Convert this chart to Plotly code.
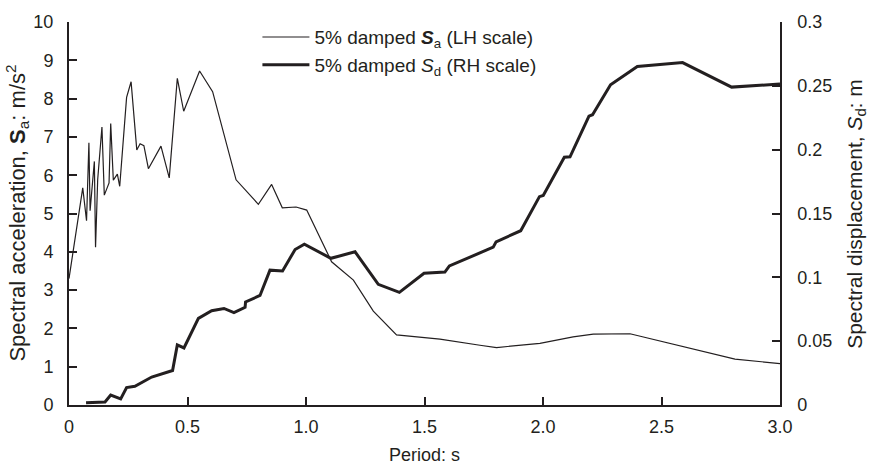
import plotly.graph_objects as go

# Spectral acceleration (LH scale)
sa_period = [0.0, 0.04, 0.058, 0.074, 0.084, 0.089, 0.107, 0.112, 0.121, 0.139, 0.149, 0.169, 0.176,
             0.187, 0.204, 0.214, 0.243, 0.262, 0.286, 0.300, 0.316, 0.335, 0.388, 0.423, 0.457, 0.484,
             0.551, 0.606, 0.705, 0.799, 0.855, 0.900, 0.958, 1.003, 1.108, 1.200, 1.284, 1.382, 1.508,
             1.565, 1.734, 1.804, 1.987, 2.072, 2.127, 2.212, 2.325, 2.367, 2.81, 3.0]
sa_values = [3.3, 4.94, 5.67, 4.81, 6.85, 5.07, 6.36, 4.12, 5.88, 7.26, 5.48, 5.8, 7.35,
             5.87, 6.03, 5.71, 8.03, 8.44, 6.66, 6.82, 6.77, 6.17, 6.76, 5.93, 8.53, 7.67,
             8.72, 8.18, 5.88, 5.24, 5.76, 5.15, 5.17, 5.09, 3.74, 3.26, 2.45, 1.83, 1.76,
             1.72, 1.56, 1.50, 1.61, 1.72, 1.78, 1.85, 1.87, 1.86, 1.2, 1.08]

# Spectral displacement (RH scale)
sd_period = [0.072, 0.152, 0.176, 0.218, 0.243, 0.278, 0.349, 0.437, 0.457, 0.485, 0.546, 0.602,
             0.654, 0.696, 0.743, 0.745, 0.806, 0.848, 0.901, 0.954, 0.993, 1.105, 1.207, 1.305,
             1.394, 1.498, 1.586, 1.605, 1.79, 1.802, 1.906, 1.985, 2.001, 2.09, 2.114, 2.194,
             2.209, 2.285, 2.398, 2.589, 2.796, 3.0]
sd_values = [0.0018, 0.0024, 0.0078, 0.0048, 0.0137, 0.0147, 0.0219, 0.027, 0.0471, 0.0447, 0.0678,
             0.0738, 0.0756, 0.0723, 0.0765, 0.0807, 0.0858, 0.1056, 0.105, 0.1218, 0.126, 0.1149,
             0.12, 0.0945, 0.0882, 0.1032, 0.1041, 0.1089, 0.1236, 0.1278, 0.1365, 0.1632, 0.1641,
             0.1941, 0.1944, 0.2262, 0.2274, 0.2508, 0.2652, 0.2682, 0.249, 0.2514]

x_ticks = [0, 0.5, 1.0, 1.5, 2.0, 2.5, 3.0]
x_ticktext = ["0", "0.5", "1.0", "1.5", "2.0", "2.5", "3.0"]
y_ticks = list(range(0, 11))
y2_ticks = [0, 0.05, 0.1, 0.15, 0.2, 0.25, 0.3]
y2_ticktext = ["0", "0.05", "0.1", "0.15", "0.2", "0.25", "0.3"]

INK = "#231f20"
FONT = "Liberation Sans, Arial, sans-serif"

fig = go.Figure()
fig.add_trace(go.Scatter(x=sa_period, y=sa_values, mode="lines",
                         line=dict(color=INK, width=1.2),
                         name="5% damped <b><i>S</i></b><sub>a</sub> (LH scale)"))
fig.add_trace(go.Scatter(x=sd_period, y=sd_values, mode="lines", yaxis="y2",
                         line=dict(color=INK, width=3),
                         name="5% damped <i>S</i><sub>d</sub> (RH scale)"))

axis_common = dict(showline=True, linecolor=INK, ticks="inside", ticklen=8, tickwidth=1.5,
                   tickcolor=INK, showgrid=False, zeroline=False,
                   tickfont=dict(family=FONT, size=18, color=INK))

fig.update_layout(
    width=869, height=466,
    margin=dict(l=69, r=89, t=18, b=61),
    paper_bgcolor="white", plot_bgcolor="white",
    font=dict(family=FONT, color=INK),
    xaxis=dict(range=[0, 3], tickvals=x_ticks, ticktext=x_ticktext, linewidth=2,
               ticklabelstandoff=4, **axis_common),
    yaxis=dict(range=[0, 10], tickvals=y_ticks, linewidth=2, ticklabelstandoff=10, **axis_common),
    yaxis2=dict(range=[0, 0.3], tickvals=y2_ticks, ticktext=y2_ticktext, overlaying="y",
                side="right", linewidth=1.5, ticklabelstandoff=12, **axis_common),
    showlegend=True,
    legend=dict(x=0.265, y=1.01, xanchor="left", yanchor="top", bgcolor="rgba(0,0,0,0)",
                itemwidth=47, font=dict(family=FONT, size=19, color=INK), tracegroupgap=0),
    annotations=[
        dict(text="Period: s", xref="paper", yref="paper", x=0.5, y=-0.13,
             yanchor="middle", xanchor="center", showarrow=False,
             font=dict(family=FONT, size=18, color=INK)),
        dict(text="Spectral acceleration, <b>S</b><sub>a</sub>: m/s<sup>2</sup>", xref="paper",
             yref="paper", x=-0.073, y=0.5, xanchor="center", yanchor="middle", textangle=-90,
             showarrow=False, font=dict(family=FONT, size=22, color=INK)),
        dict(text="Spectral displacement, <i>S</i><sub>d</sub>: m", xref="paper",
             yref="paper", x=1.106, y=0.5, xanchor="center", yanchor="middle", textangle=-90,
             showarrow=False, font=dict(family=FONT, size=21, color=INK)),
    ],
)

fig.write_html("out.html")
